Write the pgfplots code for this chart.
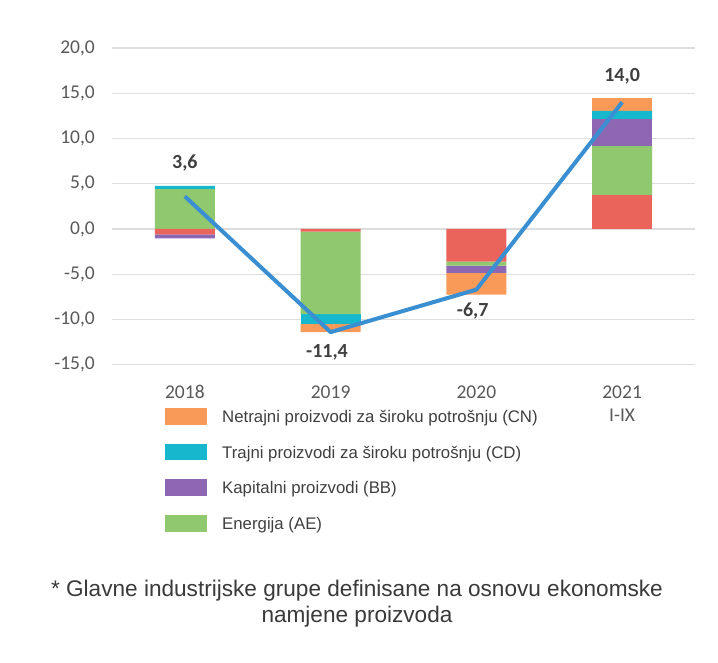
\documentclass[border=0pt]{standalone}
\usepackage{fontspec}
\setmainfont{Carlito}
\newfontfamily\arialfont{Liberation Sans}
\usepackage{pgfplots}
\pgfplotsset{compat=1.18}
\definecolor{barred}{HTML}{EB645C}
\definecolor{bargreen}{HTML}{8FC86E}
\definecolor{barpurple}{HTML}{8E67B2}
\definecolor{barcyan}{HTML}{17B8CE}
\definecolor{barorange}{HTML}{F99A58}
\definecolor{lineblue}{HTML}{3A8FD2}
\definecolor{gridgray}{HTML}{DDDDDD}
\definecolor{tickgray}{HTML}{595959}
\definecolor{labeltext}{HTML}{404040}
\definecolor{foottext}{HTML}{3A3A3A}

\pgfplotsset{
  chartbox/.style={at={(112pt,297.3pt)}, anchor=south west, scale only axis,
    width=583pt, height=316.7pt, xmin=-0.5, xmax=3.5, ymin=-15, ymax=20},
  seg/.style={fill=#1, draw=none},
  swatch/.style={fill=#1, draw=none,
    legend image code/.code={\fill[##1] (0pt,-7.5pt) rectangle (42pt,9.2pt);}},
}

\begin{document}
\begin{tikzpicture}
\path[use as bounding box, fill=white] (0,0) rectangle (718pt,662pt);

% positive parts of the stacks, with grid and ticks
\begin{axis}[chartbox, ybar stacked, bar width=0.41,
  ytick={-15,-10,...,20},
  yticklabels={{-15,0},{-10,0},{-5,0},{0,0},{5,0},{10,0},{15,0},{20,0}},
  xtick={0,1,2,3}, xticklabels={2018,2019,2020,{2021\\I-IX}},
  ymajorgrids=true, grid style={draw=gridgray, line width=1.2pt},
  axis line style={draw=none}, major tick length=0pt,
  tick label style={font=\fontsize{19.5}{23.5}\selectfont, text=tickgray, inner sep=0pt},
  xticklabel style={align=center, yshift=-20.5pt},
  yticklabel style={xshift=-17pt}]
\addplot[seg=barred] coordinates {(0,0) (1,0) (2,0) (3,3.7)};
\addplot[seg=bargreen] coordinates {(0,4.4) (1,0) (2,0) (3,5.45)};
\addplot[seg=barpurple] coordinates {(0,0) (1,0) (2,0) (3,2.95)};
\addplot[seg=barcyan] coordinates {(0,0.35) (1,0) (2,0) (3,0.95)};
\addplot[seg=barorange] coordinates {(0,0) (1,0) (2,0) (3,1.45)};
\end{axis}

% negative parts of the stacks
\begin{axis}[chartbox, hide axis, ybar stacked, bar width=0.41]
\addplot[seg=barred] coordinates {(0,-0.6) (1,-0.3) (2,-3.6) (3,0)};
\addplot[seg=bargreen] coordinates {(0,0) (1,-9.1) (2,-0.45) (3,0)};
\addplot[seg=barpurple] coordinates {(0,-0.45) (1,0) (2,-0.8) (3,0)};
\addplot[seg=barcyan] coordinates {(0,0) (1,-1.1) (2,0) (3,0)};
\addplot[seg=barorange] coordinates {(0,0) (1,-0.9) (2,-2.4) (3,0)};
\end{axis}

% total line, its labels and the legend
\begin{axis}[chartbox, hide axis, clip=false,
  legend cell align=left,
  legend style={at={(0.0909,-0.1358)}, anchor=north west, draw=none, fill=none,
    inner sep=0pt, row sep=19pt, text=labeltext,
    font=\arialfont\fontsize{16.8}{20}\selectfont,
    nodes={inner sep=0pt},
    /tikz/every odd column/.append style={column sep=15pt}}]
\addlegendimage{swatch=barorange}
\addlegendimage{swatch=barcyan}
\addlegendimage{swatch=barpurple}
\addlegendimage{swatch=bargreen}
\addplot[lineblue, line width=4pt, line join=round, mark=none]
  coordinates {(0,3.6) (1,-11.4) (2,-6.7) (3,14.0)};
\addplot[draw=none, mark=none, nodes near coords, point meta=explicit symbolic,
  nodes near coords style={anchor=center, text=labeltext,
    font=\bfseries\fontsize{20}{24}\selectfont}]
  coordinates {(0,7.3) [3{,}6] (0.975,-13.65) [-11{,}4] (1.975,-9.1) [-6{,}7] (3,16.85) [14{,}0]};
\legend{Netrajni proizvodi za široku potrošnju (CN),
  Trajni proizvodi za široku potrošnju (CD),
  Kapitalni proizvodi (BB),
  Energija (AE)}
\end{axis}

\node[anchor=base, text=foottext, font=\arialfont\fontsize{22.6}{26}\selectfont]
  at (357pt,65.3pt) {* Glavne industrijske grupe definisane na osnovu ekonomske};
\node[anchor=base, text=foottext, font=\arialfont\fontsize{22.6}{26}\selectfont]
  at (357pt,39.3pt) {namjene proizvoda};
\end{tikzpicture}
\end{document}
